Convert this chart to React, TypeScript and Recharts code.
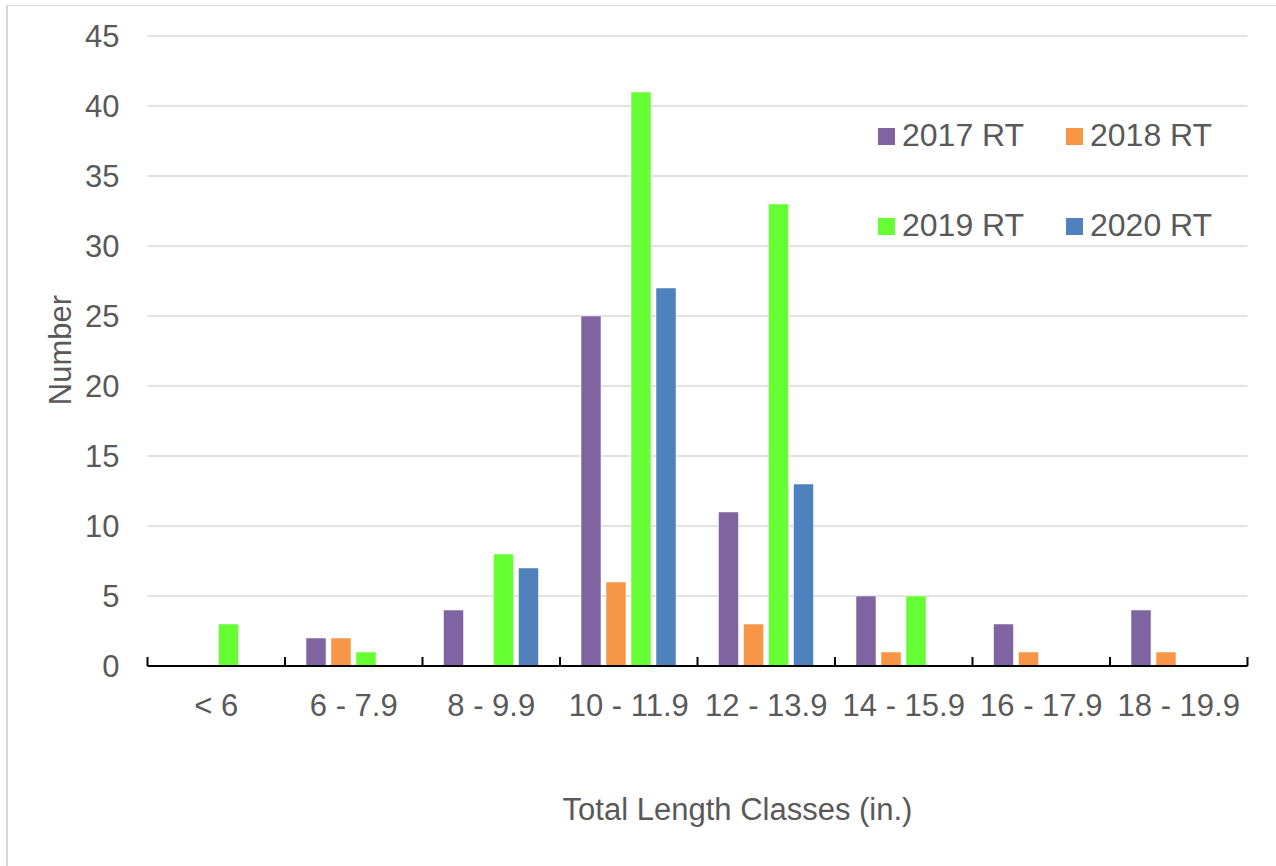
import { BarChart, Bar, XAxis, YAxis, CartesianGrid } from 'recharts';

const categories = ['< 6', '6 - 7.9', '8 - 9.9', '10 - 11.9', '12 - 13.9', '14 - 15.9', '16 - 17.9', '18 - 19.9'];
const rt2017 = [0, 2, 4, 25, 11, 5, 3, 4];
const rt2018 = [0, 2, 0, 6, 3, 1, 1, 1];
const rt2019 = [3, 1, 8, 41, 33, 5, 0, 0];
const rt2020 = [0, 0, 7, 27, 13, 0, 0, 0];
const yTicks = [0, 5, 10, 15, 20, 25, 30, 35, 40, 45];

const series = [
    { key: 'rt2017', name: '2017 RT', color: '#8064A2' },
    { key: 'rt2018', name: '2018 RT', color: '#F79646' },
    { key: 'rt2019', name: '2019 RT', color: '#66FF33' },
    { key: 'rt2020', name: '2020 RT', color: '#4F81BD' },
];

const data = categories.map((c, i) => ({
    category: c,
    rt2017: rt2017[i],
    rt2018: rt2018[i],
    rt2019: rt2019[i],
    rt2020: rt2020[i],
}));

const FONT = '"Liberation Sans", Arial, sans-serif';
const TEXT = '#595959';
const HALF_BAND = 1100 / categories.length / 2;

const CategoryTick = (props: any) => {
    const { x, y, payload, index, visibleTicksCount } = props;
    const last = index === visibleTicksCount - 1;
    return (
        <g>
            <line x1={x - HALF_BAND} x2={x - HALF_BAND} y1={y - 9} y2={y} stroke="#000" strokeWidth={2} />
            {last && <line x1={x + HALF_BAND} x2={x + HALF_BAND} y1={y - 9} y2={y} stroke="#000" strokeWidth={2} />}
            <text x={x} y={y + 50} textAnchor="middle" fill={TEXT} fontSize={31} fontFamily={FONT}>
                {payload.value}
            </text>
        </g>
    );
};

export default function App() {
    return (
        <div style={{ position: 'absolute', left: 0, top: 0, width: 1276, height: 866, background: '#fff', overflow: 'hidden' }}>
            {/* only top and left edges of the chart frame are visible */}
            <div style={{ position: 'absolute', left: 6, top: 5, width: 1300, height: 900, borderTop: '1px solid #d9d9d9', borderLeft: '2px solid #d9d9d9' }} />
            <BarChart
                width={1276}
                height={866}
                data={data}
                margin={{ top: 36, right: 28.5, left: 27.5, bottom: 0 }}
                barSize={20}
                barGap={5}
            >
                <CartesianGrid vertical={false} stroke="#d9d9d9" strokeWidth={1.5} />
                <XAxis
                    dataKey="category"
                    height={200}
                    interval={0}
                    tickLine={false}
                    tickSize={0}
                    tickMargin={0}
                    axisLine={{ stroke: '#000', strokeWidth: 2 }}
                    tick={<CategoryTick />}
                />
                <YAxis
                    width={120}
                    domain={[0, 45]}
                    ticks={yTicks}
                    interval={0}
                    axisLine={false}
                    tickLine={false}
                    tickSize={0}
                    tickMargin={28}
                    tick={{ fill: TEXT, fontSize: 31, fontFamily: FONT }}
                />
                {series.map((s) => (
                    <Bar
                        key={s.key}
                        dataKey={s.key}
                        name={s.name}
                        fill={s.color}
                        stroke="#ffffff"
                        strokeOpacity={0.5}
                        strokeWidth={1}
                        isAnimationActive={false}
                    />
                ))}
            </BarChart>

            {/* legend sits inside the plot, 2 x 2 */}
            <div
                style={{
                    position: 'absolute', left: 878, top: 117, display: 'grid',
                    gridTemplateColumns: '188px 188px', rowGap: 54, fontFamily: FONT,
                }}
            >
                {series.map((s) => (
                    <div key={s.key} style={{ display: 'flex', alignItems: 'center', height: 36 }}>
                        <span style={{ width: 17, height: 17, background: s.color, marginRight: 7, marginTop: 2 }} />
                        <span style={{ fontSize: 32, color: TEXT, lineHeight: '36px' }}>{s.name}</span>
                    </div>
                ))}
            </div>

            <div
                style={{
                    position: 'absolute', left: 60, top: 350, transform: 'translate(-50%, -50%) rotate(-90deg)',
                    fontFamily: FONT, fontSize: 31, color: TEXT, lineHeight: '31px', whiteSpace: 'nowrap',
                }}
            >
                Number
            </div>
            <div
                style={{
                    position: 'absolute', left: 737.5, top: 794, transform: 'translateX(-50%)',
                    fontFamily: FONT, fontSize: 31, color: TEXT, lineHeight: '31px', whiteSpace: 'nowrap',
                }}
            >
                Total Length Classes (in.)
            </div>
        </div>
    );
}
